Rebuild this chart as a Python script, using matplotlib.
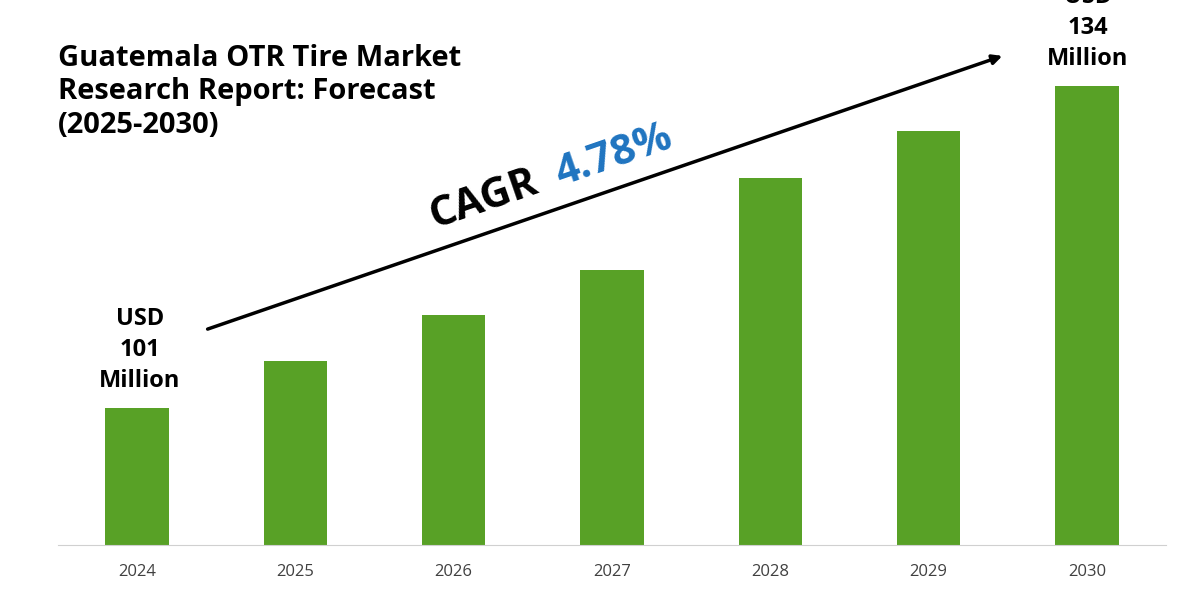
import matplotlib
matplotlib.use("Agg")
import matplotlib.pyplot as plt

years = ["2024", "2025", "2026", "2027", "2028", "2029", "2030"]
values = [101, 105.8, 110.5, 115.2, 124.6, 129.4, 134]

fig = plt.figure(figsize=(12, 6), dpi=100)
ax = fig.add_axes([58/1200, 55/600, 1108/1200, 545/600])
ax.bar(range(len(years)), values, width=0.4, color="#58a126", bottom=0)
ax.set_ylim(87, 142.8)
ax.set_xlim(-0.5, 6.5)
ax.set_xticks(range(len(years)))
ax.set_xticklabels(years, fontsize=12, color="#404040", family="Open Sans")
ax.tick_params(axis="x", length=0, pad=14)
ax.set_yticks([])
for s in ["top", "right", "left"]:
    ax.spines[s].set_visible(False)
ax.spines["bottom"].set_color("#d0d0d0")

fk = dict(family="Open Sans", fontweight="bold", color="black")
fig.text(58/1200, 1-92/600, "Guatemala OTR Tire Market\nResearch Report: Forecast\n(2025-2030)",
         fontsize=21, va="center", ha="left", linespacing=1.2, **fk)
fig.text(140/1200, 1-350/600, "USD\n101\nMillion", fontsize=17, ha="center", va="center", linespacing=1.4, **fk)
fig.text(1088/1200, 1-28/600, "USD\n134\nMillion", fontsize=17, ha="center", va="center", linespacing=1.4, **fk)

fig.add_artist(matplotlib.patches.FancyArrowPatch(
    (205/1200, 1-330/600), (1005/1200, 1-55/600), transform=fig.transFigure,
    arrowstyle="-|>", mutation_scale=14, lw=2.5, color="black"))
fig.text(435/1200, 1-228/600, "CAGR", fontsize=30, rotation=19, ha="left", va="baseline",
         rotation_mode="anchor", **fk)
fig.text(560/1200, 1-186/600, "4.78%", fontsize=30, rotation=19, ha="left", va="baseline",
         rotation_mode="anchor", family="Open Sans", fontweight="bold", color="#1f74c0")
fig.savefig("out.png", dpi=100)
